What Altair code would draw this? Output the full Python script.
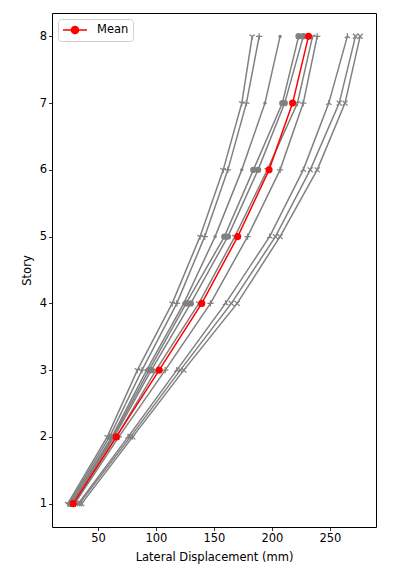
import altair as alt
import pandas as pd

stories = [1, 2, 3, 4, 5, 6, 7, 8]

# lateral displacement (mm) per story for each record
run_names = ["GM1", "GM2", "GM3", "GM4", "GM5", "GM6", "GM7", "GM8", "GM9", "GM10"]
run_markers = ["tri_down", "plus", "dot", "circle", "circle", "tri_down", "plus", "tri_up", "x", "x"]
run_values = [
    [24, 58, 84, 114, 138, 158, 174, 183],
    [25, 60, 88, 118, 142, 162, 178, 189],
    [26, 62, 92, 124, 151, 174, 194, 207],
    [27, 63, 94, 126, 159, 184, 209, 223],
    [28, 64, 96, 130, 162, 188, 211, 227],
    [29, 66, 100, 137, 168, 196, 222, 235],
    [30, 68, 108, 147, 179, 207, 227, 239],
    [33, 76, 118, 160, 198, 227, 249, 265],
    [34, 78, 121, 165, 203, 233, 258, 272],
    [36, 80, 124, 170, 207, 239, 263, 276],
]
mean_values = [28.7, 65.8, 102.8, 139.5, 170.5, 197.5, 217.8, 231.5]

rows = []
for name, mk, vals in zip(run_names, run_markers, run_values):
    for s, v in zip(stories, vals):
        rows.append({"run": name, "marker": mk, "story": s, "disp": v})
df = pd.DataFrame(rows)
mean_df = pd.DataFrame({"story": stories, "disp": mean_values, "series": ["Mean"] * len(stories)})

xs = alt.Scale(domain=[10.4, 289.7], nice=False, zero=False)
ys = alt.Scale(domain=[0.65, 8.35], nice=False, zero=False)
X = alt.X("disp:Q", scale=xs, title="Lateral Displacement (mm)",
          axis=alt.Axis(values=[50, 100, 150, 200, 250], titlePadding=7))
Y = alt.Y("story:Q", scale=ys, title="Story", axis=alt.Axis(values=stories, titlePadding=7))

gray = "#808080"

lines = alt.Chart(df).mark_line(color=gray, strokeWidth=1.5).encode(
    x=X, y=Y, detail="run:N", order="story:Q")

filled_pts = alt.Chart(df).transform_filter(
    alt.FieldOneOfPredicate(field="marker", oneOf=["circle", "dot"])
).mark_point(filled=True, color=gray, opacity=1, shape="circle").encode(
    x=X, y=Y,
    size=alt.Size("marker:N", scale=alt.Scale(domain=["circle", "dot"], range=[42, 12]), legend=None),
)

stroke_pts = alt.Chart(df).transform_filter(
    alt.FieldOneOfPredicate(field="marker", oneOf=["plus", "x", "tri_down", "tri_up"])
).mark_point(filled=False, color=gray, opacity=1, strokeWidth=1.3, size=40).encode(
    x=X, y=Y,
    shape=alt.Shape("marker:N", scale=alt.Scale(
        domain=["plus", "x", "tri_down", "tri_up"],
        range=["M-1,0H1M0,-1V1",
               "M-0.8,-0.8L0.8,0.8M-0.8,0.8L0.8,-0.8",
               "M0,0V1M0,0L-0.87,-0.5M0,0L0.87,-0.5",
               "M0,0V-1M0,0L-0.87,0.5M0,0L0.87,0.5"]), legend=None),
)

mean_line = alt.Chart(mean_df).mark_line(color="red", strokeWidth=1.5).encode(
    x=X, y=Y, order="story:Q")

legend_path = "M-2,0H2M0.6,0A0.6,0.6,0,1,1,-0.6,0A0.6,0.6,0,1,1,0.6,0Z"
mean_pts = alt.Chart(mean_df).mark_point(filled=True, opacity=1, size=50, shape="circle").encode(
    x=X, y=Y,
    color=alt.Color("series:N", scale=alt.Scale(domain=["Mean"], range=["red"]),
                    legend=alt.Legend(title=None, orient="top-left", offset=6,
                                      symbolType=legend_path, symbolSize=144,
                                      symbolOffset=6,
                                      symbolStrokeColor="red", symbolStrokeWidth=1.5,
                                      symbolFillColor="red",
                                      labelFontSize=11.5, labelFont="DejaVu Sans", labelColor="black",
                                      labelOffset=15, padding=4,
                                      strokeColor="#d0d0d0", fillColor="white", cornerRadius=3)),
)

chart = alt.layer(lines, filled_pts, stroke_pts, mean_line, mean_pts).properties(
    width=324, height=514,
    autosize=alt.AutoSizeParams(type="none"),
    padding={"left": 44, "top": 5, "right": 12, "bottom": 46},
).configure_view(stroke="black", strokeWidth=1).configure_axis(
    domain=False, grid=False, ticks=True, tickColor="black", tickSize=3.5, tickWidth=0.8,
    labelFont="DejaVu Sans", labelFontSize=11.5, labelColor="black", labelPadding=2,
    titleFont="DejaVu Sans", titleFontSize=11.5, titleFontWeight="normal", titleColor="black",
)

chart.save("out.html", embed_options={"renderer": "svg", "actions": False})
